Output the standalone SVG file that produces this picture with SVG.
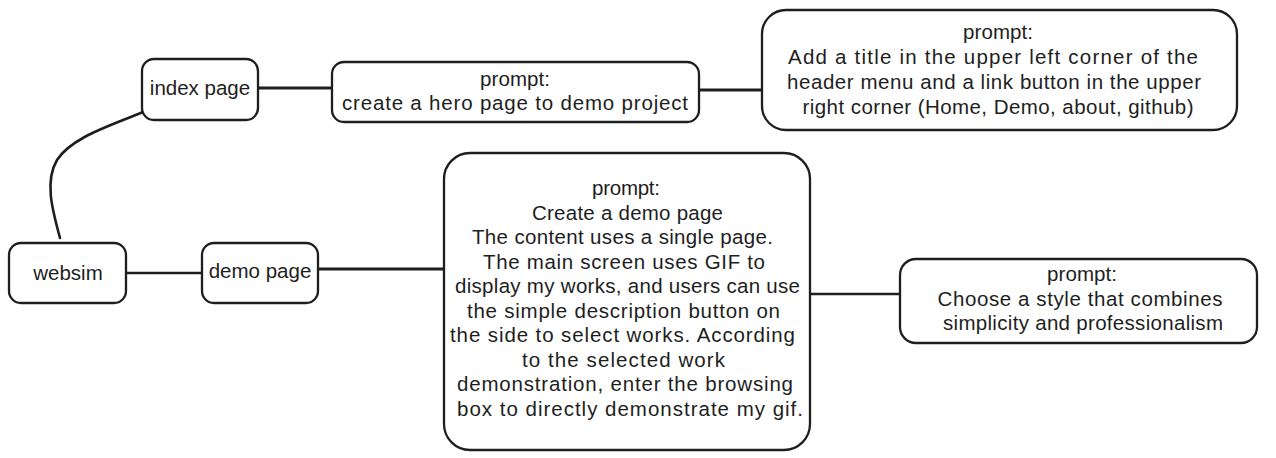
<svg xmlns="http://www.w3.org/2000/svg" width="1276" height="458" viewBox="0 0 1276 458">
<style>
.box{fill:#ffffff;stroke:#1e1e1e;stroke-width:2.3;stroke-linejoin:round}
.ln{fill:none;stroke:#1e1e1e;stroke-width:2.6;stroke-linecap:round}
.thick{stroke-width:3.2}
.t{font-family:"Liberation Sans",Arial,sans-serif;font-size:20.5px;fill:#1e1e1e;text-anchor:middle}
</style>
<rect width="1276" height="458" fill="#ffffff"/>
<g id="connectors">
<path class="ln" d="M60 238 C 53 212, 44 182, 57 160 C 72 137, 110 126, 143 112"/>
<path class="ln thick" d="M258 88 L 333 88"/>
<path class="ln thick" d="M699 90 L 762 90"/>
<path class="ln" d="M126 273 L 203 273"/>
<path class="ln thick" d="M318 269 L 444 269"/>
<path class="ln" d="M810 294 L 900 294"/>
</g>
<g id="node-websim">
<rect class="box" x="9" y="243" width="117" height="60" rx="12"/>
<text class="t" x="68" y="280">websim</text>
</g>
<g id="node-index">
<rect class="box" x="142" y="59" width="116" height="61" rx="12"/>
<text class="t" x="200" y="95">index page</text>
</g>
<g id="node-demo">
<rect class="box" x="202" y="243" width="116" height="60" rx="12"/>
<text class="t" x="260" y="278">demo page</text>
</g>
<g id="node-hero-prompt">
<rect class="box" x="332" y="62" width="367" height="60" rx="12"/>
<text class="t" x="515" y="86" textLength="70">prompt:</text>
<text class="t" x="515" y="110" textLength="346">create a hero page to demo project</text>
</g>
<g id="node-header-prompt">
<rect class="box" x="762" y="10" width="475" height="120" rx="24"/>
<text class="t" x="998" y="39" textLength="70">prompt:</text>
<text class="t" x="993" y="64" textLength="410">Add a title in the upper left corner of the</text>
<text class="t" x="994" y="89" textLength="414">header menu and a link button in the upper</text>
<text class="t" x="998" y="114" textLength="391">right corner (Home, Demo, about, github)</text>
</g>
<g id="node-demo-prompt">
<rect class="box" x="444" y="153" width="366" height="297" rx="26"/>
<text class="t" x="626" y="195" textLength="68">prompt:</text>
<text class="t" x="627.5" y="219.5" textLength="191">Create a demo page</text>
<text class="t" x="622.5" y="244" textLength="301">The content uses a single page.</text>
<text class="t" x="624" y="268.5" textLength="282">The main screen uses GIF to</text>
<text class="t" x="627.5" y="293" textLength="345">display my works, and users can use</text>
<text class="t" x="623.5" y="317.5" textLength="313">the simple description button on</text>
<text class="t" x="622.5" y="342" textLength="345">the side to select works. According</text>
<text class="t" x="623.5" y="366.5" textLength="203">to the selected work</text>
<text class="t" x="625" y="391" textLength="336">demonstration, enter the browsing</text>
<text class="t" x="630" y="415.5" textLength="346">box to directly demonstrate my gif.</text>
</g>
<g id="node-style-prompt">
<rect class="box" x="900" y="259" width="357" height="84" rx="16"/>
<text class="t" x="1082" y="281" textLength="70">prompt:</text>
<text class="t" x="1080" y="306" textLength="285">Choose a style that combines</text>
<text class="t" x="1083" y="330" textLength="280">simplicity and professionalism</text>
</g>
</svg>
